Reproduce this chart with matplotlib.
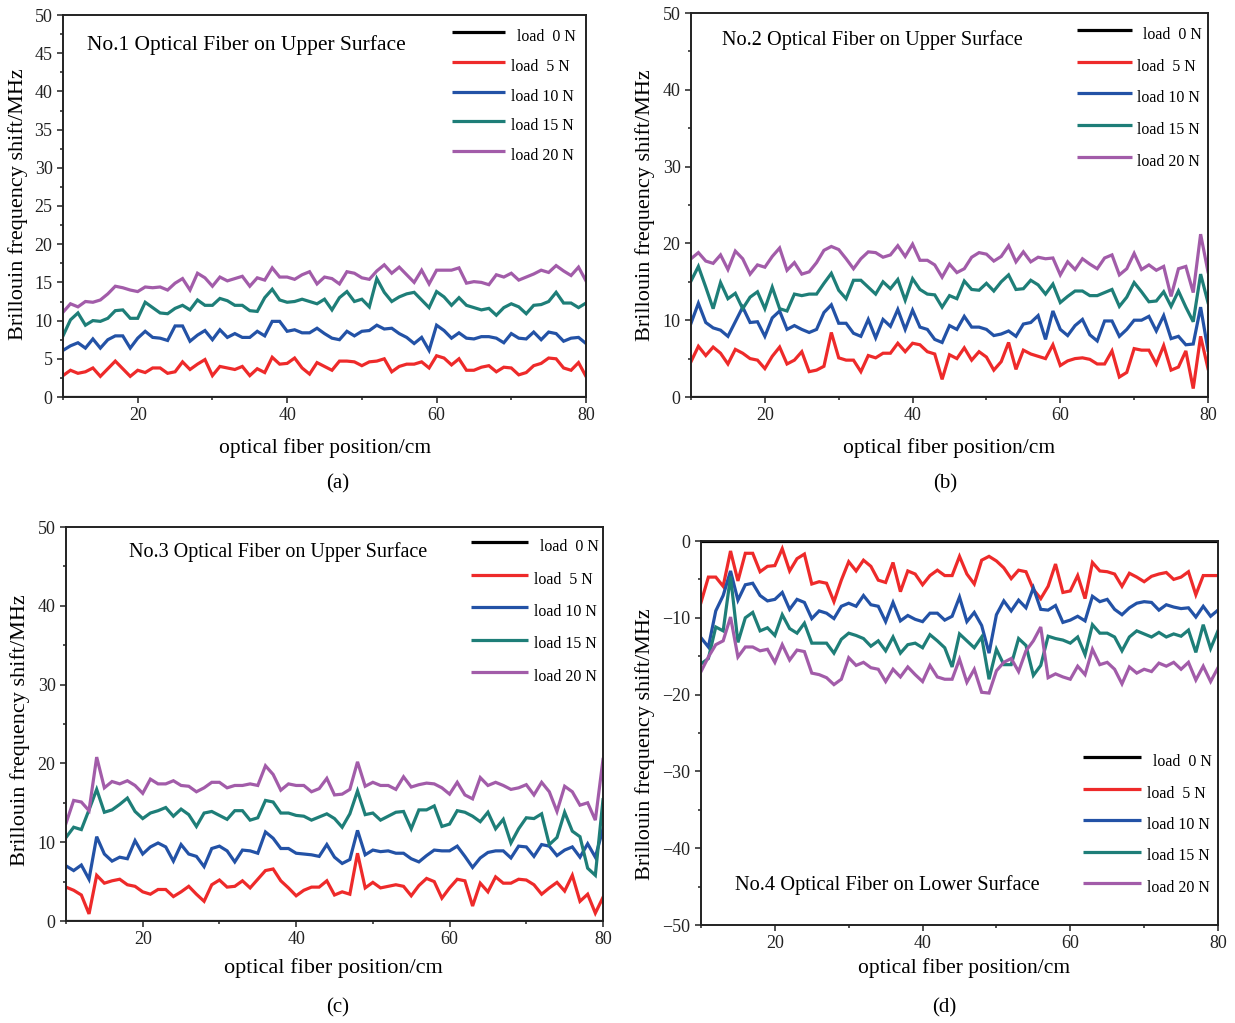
import numpy as np
import matplotlib
matplotlib.use("Agg")
import matplotlib.pyplot as plt
from matplotlib.ticker import MultipleLocator

plt.rcParams['font.family'] = ['Liberation Serif', 'DejaVu Serif']

# fiber positions (cm), one reading per cm
pos = np.arange(10, 81)

loads = ['load  0 N', 'load  5 N', 'load 10 N', 'load 15 N', 'load 20 N']
colors = ['#000000', '#ee2a2a', '#2352a6', '#1e7e78', '#a25ca9']

# No.1 fiber, upper surface
a_5 = [2.8, 3.5, 3.1, 3.3, 3.8, 2.7, 3.7, 4.7, 3.7, 2.7, 3.5, 3.2, 3.8, 3.8, 3.1, 3.3, 4.6, 3.6, 4.3, 4.9,
       2.8, 4.0, 3.8, 3.6, 4.0, 2.8, 3.7, 3.2, 5.2, 4.3, 4.4, 5.1, 3.8, 3.0, 4.5, 4.0, 3.5, 4.7, 4.7, 4.6,
       4.1, 4.6, 4.7, 5.0, 3.3, 4.0, 4.3, 4.3, 4.6, 3.8, 5.4, 5.1, 4.2, 5.0, 3.5, 3.5, 3.9, 4.1, 3.3, 3.9,
       3.8, 2.9, 3.2, 4.1, 4.4, 5.1, 5.0, 3.8, 3.5, 4.5, 2.7]
a_10 = [6.1, 6.7, 7.1, 6.4, 7.6, 6.4, 7.5, 8.0, 8.0, 6.4, 7.7, 8.6, 7.8, 7.7, 7.4, 9.3, 9.3, 7.3, 8.1, 8.7,
        7.5, 8.8, 7.8, 8.3, 7.8, 7.8, 8.6, 8.0, 9.9, 9.9, 8.6, 8.8, 8.4, 8.4, 9.0, 8.3, 7.7, 7.5, 8.6, 8.0,
        8.6, 8.7, 9.4, 8.9, 9.0, 8.3, 7.8, 7.0, 7.8, 6.1, 9.4, 8.7, 7.7, 8.4, 7.7, 7.6, 7.9, 7.9, 7.7, 7.1,
        8.3, 7.7, 7.6, 8.5, 7.5, 8.5, 8.3, 7.3, 7.7, 7.8, 7.0]
a_15 = [8.0, 10.1, 11.0, 9.4, 10.0, 9.9, 10.3, 11.3, 11.4, 10.3, 10.3, 12.4, 11.7, 11.0, 10.9, 11.6, 12.0,
        11.4, 12.7, 12.0, 12.0, 12.9, 12.6, 12.0, 12.0, 11.3, 11.2, 13.0, 14.1, 12.7, 12.4, 12.5, 12.8, 12.5,
        12.2, 12.8, 11.4, 13.0, 13.8, 12.5, 12.8, 11.8, 15.5, 13.7, 12.5, 13.1, 13.5, 13.7, 12.7, 11.7, 13.8,
        13.1, 12.0, 13.0, 12.0, 11.7, 11.4, 11.6, 10.7, 11.7, 12.2, 11.8, 10.9, 12.0, 12.1, 12.5, 13.7, 12.3,
        12.3, 11.7, 12.3]
a_20 = [11.1, 12.2, 11.8, 12.5, 12.4, 12.7, 13.5, 14.5, 14.3, 14.0, 13.8, 14.4, 14.3, 14.4, 14.0, 14.9, 15.5,
        14.0, 16.2, 15.6, 14.5, 15.7, 15.2, 15.5, 15.8, 14.5, 15.6, 15.3, 16.9, 15.7, 15.7, 15.4, 16.0, 16.4,
        14.8, 15.7, 15.5, 14.8, 16.4, 16.2, 15.6, 15.4, 16.5, 17.3, 16.2, 17.0, 16.0, 15.0, 16.6, 14.8, 16.6,
        16.6, 16.6, 16.9, 14.9, 15.1, 15.0, 14.7, 16.0, 15.7, 16.2, 15.3, 15.7, 16.1, 16.6, 16.3, 17.2, 16.5,
        15.9, 17.0, 15.2]

# No.2 fiber, upper surface
b_5 = [4.6, 6.6, 5.4, 6.5, 5.7, 4.3, 6.2, 5.7, 5.0, 4.8, 3.7, 5.3, 6.5, 4.3, 4.8, 5.9, 3.3, 3.5, 4.0, 8.4,
       5.1, 4.8, 4.8, 3.3, 5.4, 5.1, 5.7, 5.7, 7.0, 5.9, 7.0, 6.8, 5.9, 5.6, 2.3, 5.5, 5.0, 6.4, 4.8, 5.9,
       5.2, 3.5, 4.6, 7.1, 3.6, 6.1, 5.6, 5.3, 5.0, 6.8, 4.1, 4.7, 5.0, 5.1, 4.9, 4.3, 4.3, 6.0, 2.6, 3.2,
       6.3, 6.1, 6.1, 4.3, 6.7, 3.5, 3.9, 6.0, 1.1, 7.9, 3.7]
b_10 = [9.6, 12.2, 9.7, 9.0, 8.7, 7.9, 9.8, 11.7, 9.7, 9.8, 7.9, 10.3, 11.2, 8.8, 9.3, 8.8, 8.4, 8.8, 11.0,
        12.0, 9.6, 9.6, 8.3, 7.9, 10.1, 7.7, 10.1, 9.2, 11.4, 8.8, 11.3, 9.1, 8.8, 7.5, 7.1, 9.3, 8.8, 10.5,
        9.1, 9.1, 8.8, 8.0, 8.2, 8.6, 7.9, 9.5, 9.7, 10.6, 7.5, 11.2, 8.8, 8.0, 9.3, 10.1, 8.1, 7.3, 9.9, 9.9,
        7.9, 8.8, 10.0, 10.0, 10.5, 8.6, 10.6, 7.6, 7.9, 6.8, 6.9, 11.7, 6.1]
b_15 = [15.1, 17.0, 14.3, 11.5, 14.9, 12.8, 13.5, 11.5, 13.0, 13.7, 11.5, 14.3, 11.5, 11.2, 13.4, 13.2, 13.4,
        13.4, 14.8, 16.1, 13.9, 12.8, 15.2, 15.2, 14.3, 13.4, 15.0, 14.1, 15.3, 12.6, 15.4, 14.0, 13.4, 13.3,
        11.7, 13.2, 12.8, 15.1, 14.0, 13.9, 14.8, 13.8, 15.0, 15.9, 14.0, 14.1, 15.2, 14.6, 13.4, 14.7, 12.3,
        13.1, 13.8, 13.8, 13.2, 13.2, 13.6, 14.0, 11.8, 13.0, 14.9, 13.7, 12.4, 12.5, 13.7, 11.8, 13.8, 11.7,
        9.8, 16.0, 12.3]
b_20 = [18.0, 18.8, 17.7, 17.4, 18.5, 16.6, 19.0, 18.0, 16.0, 17.2, 16.9, 18.3, 19.4, 16.5, 17.5, 16.0, 16.3,
        17.5, 19.1, 19.6, 19.2, 18.0, 16.7, 18.0, 18.9, 18.8, 18.2, 18.5, 19.7, 18.3, 19.9, 17.8, 17.8, 17.2,
        15.6, 17.3, 16.2, 16.7, 18.2, 18.8, 18.6, 17.7, 18.3, 19.7, 17.6, 18.9, 17.6, 18.2, 18.0, 18.1, 15.9,
        17.6, 16.6, 18.0, 17.3, 16.7, 18.1, 18.5, 15.9, 16.7, 18.7, 16.6, 17.2, 16.5, 17.0, 13.1, 16.7, 17.0,
        13.6, 21.2, 16.3]

# No.3 fiber, upper surface
c_5 = [4.3, 3.9, 3.3, 0.9, 5.8, 4.8, 5.1, 5.3, 4.6, 4.4, 3.7, 3.4, 4.0, 4.0, 3.1, 3.7, 4.4, 3.4, 2.5, 4.6,
       5.2, 4.3, 4.4, 5.1, 4.2, 5.3, 6.4, 6.6, 5.1, 4.2, 3.2, 3.9, 4.3, 4.3, 5.1, 3.3, 3.7, 3.4, 8.6, 4.2,
       4.9, 4.2, 4.4, 4.6, 4.4, 3.2, 4.5, 5.4, 5.0, 2.9, 4.2, 5.3, 5.1, 1.9, 4.8, 3.7, 5.6, 4.8, 4.8, 5.3,
       5.2, 4.6, 3.4, 4.2, 4.9, 3.8, 5.8, 2.5, 3.4, 1.0, 3.0]
c_10 = [7.0, 6.4, 7.1, 5.3, 10.7, 8.5, 7.6, 8.1, 7.9, 10.2, 8.5, 9.4, 9.9, 9.4, 7.6, 9.7, 8.5, 8.2, 6.9, 9.2,
        9.5, 8.9, 7.5, 9.0, 8.9, 8.6, 11.3, 10.5, 9.2, 9.2, 8.6, 8.5, 8.4, 8.2, 9.7, 8.1, 7.3, 7.8, 11.5, 8.4,
        9.0, 8.8, 8.9, 8.6, 8.6, 7.9, 7.5, 8.3, 9.0, 8.9, 8.9, 9.5, 8.2, 6.8, 8.0, 8.7, 8.9, 8.9, 8.0, 9.5,
        9.4, 8.2, 9.7, 9.5, 8.3, 9.0, 9.4, 8.1, 9.8, 8.1, 11.7]
c_15 = [10.6, 11.9, 11.6, 14.1, 16.7, 13.8, 14.1, 14.8, 15.6, 13.9, 13.0, 13.7, 14.0, 14.4, 13.3, 14.2, 13.5,
        12.0, 13.7, 13.9, 13.4, 12.9, 14.0, 14.0, 12.8, 13.1, 15.3, 15.1, 13.7, 13.7, 13.4, 13.3, 12.8, 13.2,
        13.6, 13.0, 11.9, 13.6, 16.5, 13.5, 13.7, 12.8, 13.3, 13.8, 13.9, 11.7, 14.1, 14.1, 14.6, 12.0, 12.3,
        14.0, 13.8, 13.3, 12.6, 13.8, 11.7, 12.9, 9.9, 11.7, 13.1, 13.0, 13.6, 9.7, 10.6, 13.8, 11.4, 10.7,
        6.7, 5.8, 15.4]
c_20 = [12.4, 15.3, 15.1, 14.0, 20.8, 16.9, 17.7, 17.4, 17.8, 17.2, 16.2, 18.0, 17.4, 17.4, 17.8, 17.2, 17.1,
        16.4, 16.9, 17.6, 17.6, 16.9, 17.2, 17.2, 17.4, 17.2, 19.7, 18.6, 16.6, 17.4, 17.2, 17.2, 16.4, 16.8,
        18.1, 16.0, 16.1, 16.7, 20.2, 17.1, 17.6, 17.2, 17.2, 16.7, 18.3, 17.0, 17.3, 17.5, 17.4, 16.9, 16.1,
        17.6, 16.0, 15.5, 18.2, 17.2, 17.6, 17.2, 16.7, 16.9, 17.3, 16.0, 17.6, 16.4, 13.9, 17.1, 16.4, 14.7,
        15.0, 12.8, 20.5]

# No.4 fiber, lower surface
d_5 = [-8.0, -4.7, -4.7, -5.9, -1.3, -5.2, -1.6, -1.6, -4.0, -3.3, -3.2, -1.0, -3.9, -2.3, -1.7, -5.6, -5.3,
       -5.5, -7.9, -5.1, -2.7, -3.9, -2.5, -3.3, -5.1, -5.4, -2.8, -6.6, -3.9, -4.3, -5.7, -4.5, -3.8, -4.5,
       -4.5, -2.0, -4.3, -5.6, -2.5, -2.0, -2.6, -3.5, -4.9, -3.8, -4.0, -6.3, -7.5, -5.9, -3.0, -6.7, -6.5,
       -4.5, -7.5, -2.8, -3.9, -4.0, -4.3, -5.9, -4.2, -4.7, -5.3, -4.6, -4.3, -4.1, -5.0, -4.7, -4.0, -7.0,
       -4.5, -4.5, -4.5]
d_10 = [-12.6, -13.8, -9.1, -7.1, -3.9, -7.7, -5.7, -5.5, -7.1, -7.8, -7.6, -6.7, -8.9, -7.6, -8.0, -10.1,
        -9.1, -9.4, -10.1, -8.5, -8.1, -8.5, -7.1, -8.3, -8.5, -10.5, -8.0, -10.4, -9.7, -10.2, -10.5, -9.4,
        -9.4, -10.3, -9.8, -7.3, -10.5, -9.3, -11.0, -14.6, -9.6, -7.8, -9.1, -7.7, -8.7, -6.1, -8.9, -9.0,
        -8.4, -10.6, -10.3, -9.8, -10.4, -7.2, -7.9, -7.6, -8.9, -9.6, -8.7, -8.1, -7.9, -8.0, -9.0, -8.3,
        -8.6, -8.8, -8.7, -9.9, -8.5, -9.8, -9.0]
d_15 = [-16.0, -15.3, -11.2, -11.7, -4.6, -13.2, -10.0, -9.3, -11.7, -11.3, -12.3, -9.6, -11.4, -12.0, -10.7,
        -13.3, -13.3, -13.3, -14.6, -12.8, -12.0, -12.3, -12.7, -13.7, -13.0, -14.3, -12.5, -14.6, -13.5,
        -13.3, -13.9, -12.2, -13.0, -13.9, -16.4, -12.1, -13.0, -13.9, -12.5, -18.0, -14.1, -16.1, -16.1,
        -12.7, -13.6, -17.5, -16.2, -12.4, -12.7, -12.9, -13.3, -12.5, -14.8, -10.9, -12.0, -12.0, -12.5,
        -14.3, -12.5, -11.7, -12.1, -12.5, -11.9, -12.5, -12.1, -12.4, -11.6, -14.5, -10.9, -14.0, -11.7]
d_20 = [-17.0, -15.1, -13.5, -13.0, -9.9, -15.1, -13.8, -13.8, -14.3, -14.1, -15.8, -13.5, -15.5, -14.2,
        -14.4, -17.2, -17.4, -17.8, -18.7, -18.0, -15.2, -16.2, -15.8, -16.5, -16.7, -18.3, -16.7, -17.7,
        -16.4, -17.4, -18.3, -16.2, -17.7, -18.0, -18.0, -15.4, -18.4, -16.7, -19.7, -19.8, -16.9, -15.8,
        -15.3, -17.0, -14.3, -13.0, -11.2, -17.8, -17.3, -17.7, -18.0, -16.3, -17.4, -14.1, -16.1, -15.8,
        -16.7, -18.6, -16.4, -17.2, -16.7, -17.0, -15.9, -16.3, -15.8, -16.7, -15.8, -18.1, -16.3, -18.3, -16.5]

zero = [0.0] * len(pos)

W, H = 1235, 1023
fig = plt.figure(figsize=(W / 100, H / 100), dpi=100)


def fx(x):
    return x / W


def fy(y):
    return 1 - y / H


def px_axes(left, top, right, bottom):
    return fig.add_axes([fx(left), fy(bottom), (right - left) / W, (bottom - top) / H])


def fig_text(x, y, s, **kw):
    fig.text(fx(x), fy(y), s, ha='center', va='center', **kw)


# key: handle x0, x1, text x, first handle y, row pitch (all in figure pixels)
panels = [
    dict(box=(63, 15, 586, 397), series=[zero, a_5, a_10, a_15, a_20], ylim=(0, 50), major=5, minor=2.5,
         title='No.1 Optical Fiber on Upper Surface', tpos=(87, 45), tsize=15.5,
         key=(452, 505, 511, 32, 29.8),
         ylab=(18, 204), xlab=(325, 448), xsize=15.5, tag=(338, 484, '(a)')),
    dict(box=(691, 13, 1208, 397), series=[zero, b_5, b_10, b_15, b_20], ylim=(0, 50), major=10, minor=5,
         title='No.2 Optical Fiber on Upper Surface', tpos=(722, 40), tsize=14.6,
         key=(1077, 1132, 1137, 30, 31.7),
         ylab=(645, 205), xlab=(949, 448), xsize=15.5, tag=(945, 484, '(b)')),
    dict(box=(66, 527, 603, 921), series=[zero, c_5, c_10, c_15, c_20], ylim=(0, 50), major=10, minor=5,
         title='No.3 Optical Fiber on Upper Surface', tpos=(129, 552), tsize=14.5,
         key=(471, 528, 534, 542, 32.5),
         ylab=(20, 730), xlab=(333, 968), xsize=16, tag=(338, 1008, '(c)')),
    dict(box=(701, 541, 1218, 925), series=[zero, d_5, d_10, d_15, d_20], ylim=(-50, 0), major=10, minor=5,
         title='No.4 Optical Fiber on Lower Surface', tpos=(735, 885), tsize=14.7,
         key=(1083, 1141, 1147, 757, 31.5),
         ylab=(645, 744), xlab=(964, 968), xsize=15.5, tag=(944, 1008, '(d)')),
]

for p in panels:
    ax = px_axes(*p['box'])
    for ys, c in zip(p['series'], colors):
        ax.plot(pos, ys, color=c, lw=2.3, solid_joinstyle='miter')
    ax.set_xlim(10, 80)
    ax.set_ylim(*p['ylim'])
    ax.xaxis.set_major_locator(MultipleLocator(20))
    ax.xaxis.set_minor_locator(MultipleLocator(10))
    ax.yaxis.set_major_locator(MultipleLocator(p['major']))
    ax.yaxis.set_minor_locator(MultipleLocator(p['minor']))
    ax.tick_params(which='both', direction='out', labelsize=13, width=1.1, colors='#222222')
    ax.tick_params(which='major', length=4)
    ax.tick_params(which='minor', length=2.5)
    for s in ax.spines.values():
        s.set_linewidth(1.4)
        s.set_color('#222222')

    fig.text(fx(p['tpos'][0]), fy(p['tpos'][1]), p['title'], ha='left', va='center', fontsize=p['tsize'])

    # series key, text sits slightly below its line sample
    x0, x1, tx, y0, pitch = p['key']
    for i, (lab, c) in enumerate(zip(loads, colors)):
        yh = y0 + i * pitch
        ax.plot([fx(x0), fx(x1)], [fy(yh), fy(yh)], transform=fig.transFigure, color=c, lw=2.3,
                clip_on=False, solid_capstyle='butt')
        shift = 6 if i == 0 else 0
        fig.text(fx(tx + shift), fy(yh + 5), lab, ha='left', va='center', fontsize=11.4)

    fig_text(*p['ylab'], 'Brillouin frequency shift/MHz', rotation=90, fontsize=16)
    fig_text(*p['xlab'], 'optical fiber position/cm', fontsize=p['xsize'])
    fig_text(p['tag'][0], p['tag'][1], p['tag'][2], fontsize=15)

fig.savefig('out.png', dpi=100)
